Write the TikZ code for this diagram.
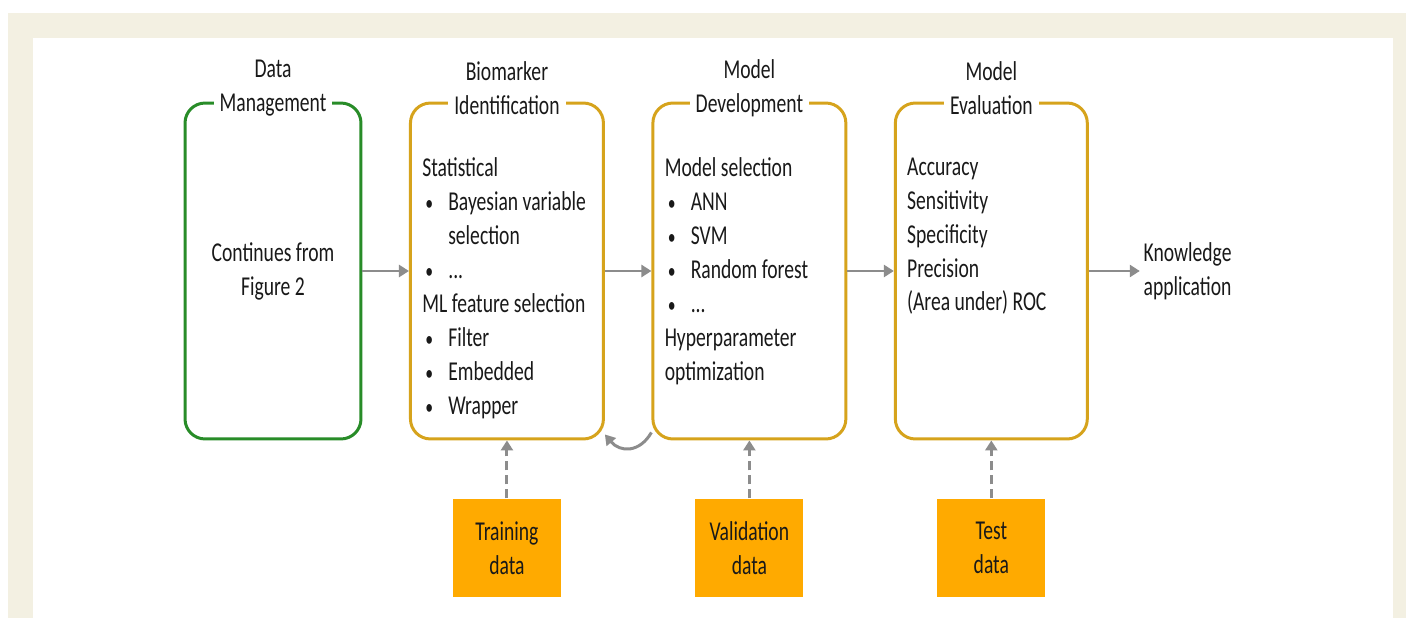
\documentclass[tikz,border=0pt]{standalone}
\usepackage{fontspec}
\setmainfont{Carlito}[FakeStretch=0.72]
\usetikzlibrary{positioning,arrows.meta}
\definecolor{bgcream}{RGB}{243,240,226}
\definecolor{dmgreen}{RGB}{40,140,40}
\definecolor{stagegold}{RGB}{214,163,28}
\definecolor{dataorange}{RGB}{255,170,0}
\definecolor{flowgray}{RGB}{140,140,140}
\begin{document}
\begin{tikzpicture}[x=0.02cm,y=0.02cm,node distance=0.93cm,
	every node/.style={text=black!90,font=\fontsize{15.5}{19.3}\selectfont},
	stage/.style={draw=stagegold,line width=1.7pt,rounded corners=0.4cm,minimum width=3.86cm,minimum height=6.72cm,inner sep=0},
	stagetitle/.style={fill=white,align=center,inner xsep=0.12cm,inner ysep=0},
	stagelist/.style={align=left,anchor=north west,inner sep=0},
	databox/.style={fill=dataorange,align=center,minimum width=2.16cm,minimum height=1.96cm,inner sep=0},
	flow/.style={draw=flowgray,line width=1.7pt,-{Triangle[length=0.2cm,width=0.24cm]}},
	dflow/.style={flow,dash pattern=on 0.18cm off 0.1cm}]
	%\draw[step=50,gray!30] (0,0) grid (1406,-618); %Hilfsgitter
	\useasboundingbox (0,0) rectangle (1406,-618);
	\fill[bgcream] (8,-13) rectangle (1406,-618);
	\fill[white] (33,-38) rectangle (1393,-618);
	\def\itm#1{\makebox[0.52cm][l]{\hspace{0.06cm}\scalebox{0.8}{\textbullet}}#1}
	% Phasen
	\node[stage,draw=dmgreen,minimum width=3.52cm] (dm) at (273,-271) {};
	\node[stage,right=of dm] (bi) {};
	\node[stage,right=of bi] (md) {};
	\node[stage,right=of md,minimum width=3.84cm] (me) {};
	\node[right=1.02cm of me,align=center,inner sep=0.07cm] (ka) {Knowledge\\application};
	\node[stagetitle] (dm-t) at ([yshift=0.27cm]dm.north) {Data\\Management};
	\node[stagetitle] (bi-t) at ([yshift=0.27cm]bi.north) {Biomarker\\Identification};
	\node[stagetitle] (md-t) at ([yshift=0.27cm]md.north) {Model\\Development};
	\node[stagetitle] (me-t) at ([yshift=0.27cm]me.north) {Model\\Evaluation};
	\node[align=center] (dm-l) at (dm) {Continues from\\Figure 2};
	\node[stagelist] (bi-l) at ([xshift=0.26cm,yshift=-1.12cm]bi.north west) {Statistical\\\itm{Bayesian variable}\\\hspace*{0.52cm}selection\\\itm{...}\\ML feature selection\\\itm{Filter}\\\itm{Embedded}\\\itm{Wrapper}};
	\node[stagelist] (md-l) at ([xshift=0.26cm,yshift=-1.12cm]md.north west) {Model selection\\\itm{ANN}\\\itm{SVM}\\\itm{Random forest}\\\itm{...}\\Hyperparameter\\optimization};
	\node[stagelist] (me-l) at ([xshift=0.26cm,yshift=-1.12cm]me.north west) {Accuracy\\Sensitivity\\Specificity\\Precision\\(Area under) ROC};
	% Daten
	\node[databox,below=1.16cm of bi] (train) {Training\\data};
	\node[databox,below=1.16cm of md] (valid) {Validation\\data};
	\node[databox,below=1.16cm of me] (test) {Test\\data};
	\draw[flow] (dm) -- (bi); \draw[flow] (bi) -- (md); \draw[flow] (md) -- (me); \draw[flow] (me) -- (ka);
	\draw[flow] ([yshift=0.16cm]md.south west) to[out=-120,in=-50,looseness=1.3] ([yshift=0.12cm]bi.south east);
	\draw[dflow] (train) -- (bi); \draw[dflow] (valid) -- (md); \draw[dflow] (test) -- (me);
\end{tikzpicture}
\end{document}
